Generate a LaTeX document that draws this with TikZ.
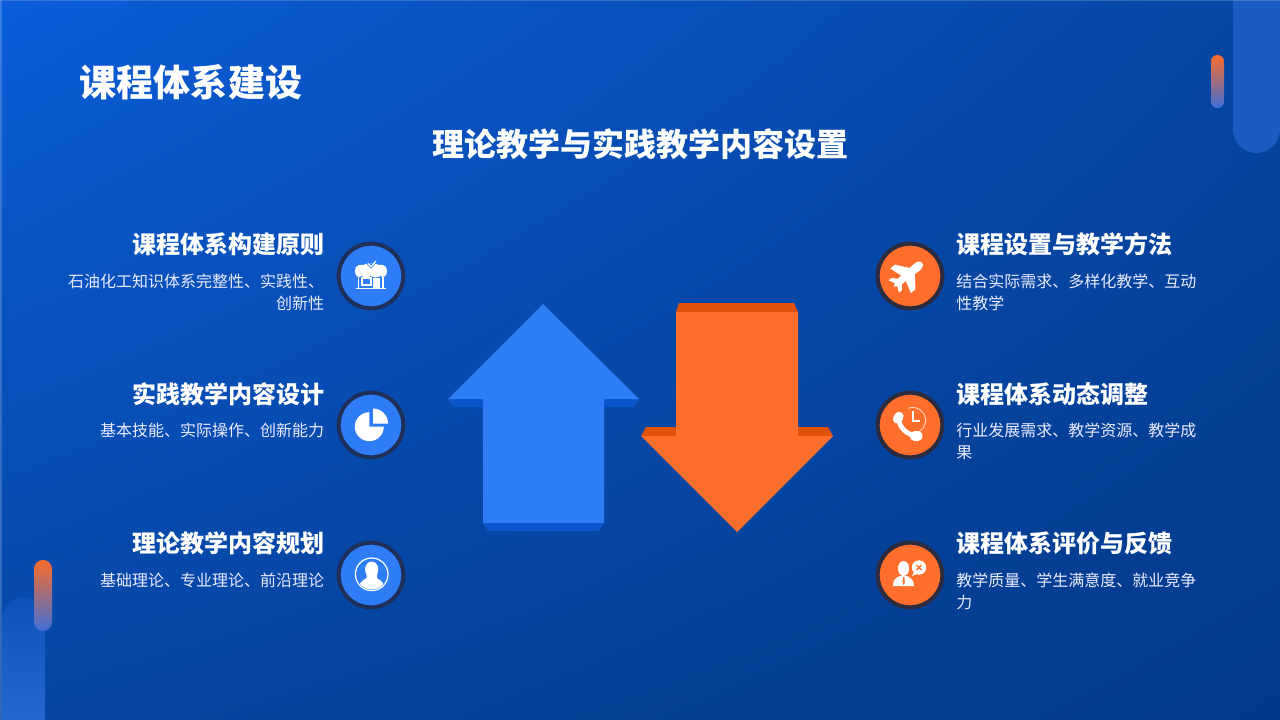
\documentclass[tikz,border=0pt]{standalone}
\usepackage{fontspec}
\usetikzlibrary{shadings}
\setmainfont{Noto Sans CJK SC}
\definecolor{bluefill}{HTML}{2F7DF6}
\definecolor{blueshade}{HTML}{0B55CC}
\definecolor{orangefill}{HTML}{FF6E2B}
\definecolor{orangeshade}{HTML}{E0520A}
\definecolor{ringblue}{HTML}{1E3059}
\definecolor{ringorange}{HTML}{2B2A3E}
\definecolor{bgtl}{HTML}{0A5DD9}
\definecolor{bgmid}{HTML}{0646A2}
\definecolor{bgbr}{HTML}{03398A}
\definecolor{panelc}{HTML}{1B5CC2}
\definecolor{pillo}{HTML}{FA6C2A}
\definecolor{pillb}{HTML}{3F6FD8}
\definecolor{paneltop}{HTML}{0D52BA}
\definecolor{panelbot}{HTML}{2468CF}
\tikzset{
  x=0.75pt,y=-0.75pt,
  titletext/.style={text=white,font=\fontsize{27.8}{32}\bfseries\selectfont,inner sep=0pt},
  subtitletext/.style={text=white,font=\fontsize{24}{28}\bfseries\selectfont,inner sep=0pt},
  headr/.style={text=white,font=\fontsize{18}{22}\bfseries\selectfont,inner sep=0pt,anchor=east},
  headl/.style={text=white,font=\fontsize{18}{22}\bfseries\selectfont,inner sep=0pt,anchor=west},
  bodyr/.style={text=white!92!blue,font=\fontsize{12}{16.5}\selectfont,inner sep=0pt,anchor=north east,align=right},
  bodyl/.style={text=white!92!blue,font=\fontsize{12}{16.5}\selectfont,inner sep=0pt,anchor=north west,align=left},
  bluedisc/.style={circle,minimum size=48.5pt,inner sep=0pt,fill=bluefill,draw=ringblue,line width=3pt},
  orangedisc/.style={circle,minimum size=48.5pt,inner sep=0pt,fill=orangefill,draw=ringorange,line width=3pt},
  wh/.style={fill=white,draw=none},
}
\begin{document}
\begin{tikzpicture}
\useasboundingbox (0,0) rectangle (1280,720);
% background
\begin{scope}
\clip (0,0) rectangle (1280,720);
\shade[lower right=bgbr,upper left=bgtl,lower left=bgmid,upper right=bgmid] (0,0) rectangle (1280,720);
\fill[panelc] (1233,-30) -- (1233,129.5) arc[start angle=180,end angle=0,radius=23.5] -- (1280,-30) -- cycle;
\shade[top color=paneltop,bottom color=panelbot] (2,720) -- (2,619) arc[start angle=180,end angle=360,radius=21.5] -- (45,720) -- cycle;
\fill[white,opacity=.18] (0,0) rectangle (1280,1.5);
\fill[white,opacity=.18] (0,0) rectangle (1.5,720);
\end{scope}
% pills
\shade[top color=pillo,bottom color=pillb,rounded corners=4.8pt] (1211,55) rectangle (1224,108);
\shade[top color=pillo,bottom color=pillb,rounded corners=6.7pt] (34,560) rectangle (52,631);
% titles
\node[titletext,anchor=west] (title) at (79.5,82) {课程体系建设};
\node[subtitletext] (subtitle) at (640,144) {理论教学与实践教学内容设置};
% left texts
\node[headr] (h1) at (324.7,244) {课程体系构建原则};
\node[bodyr] (b1) at (324.5,274) {石油化工知识体系完整性、实践性、\\创新性};
\node[headr] (h2) at (324.7,394) {实践教学内容设计};
\node[bodyr] (b2) at (324.5,423) {基本技能、实际操作、创新能力};
\node[headr] (h3) at (324.7,543) {理论教学内容规划};
\node[bodyr] (b3) at (324.5,573) {基础理论、专业理论、前沿理论};
% right texts
\node[headl] (h4) at (956,244) {课程设置与教学方法};
\node[bodyl] (b4) at (956,274) {结合实际需求、多样化教学、互动\\性教学};
\node[headl] (h5) at (956,394) {课程体系动态调整};
\node[bodyl] (b5) at (956,423) {行业发展需求、教学资源、教学成\\果};
\node[headl] (h6) at (956,543) {课程体系评价与反馈};
\node[bodyl] (b6) at (956,573) {教学质量、学生满意度、就业竞争\\力};
% arrows
\fill[blueshade] (448,399) -- (453,407) -- (483,407) -- (483,399) -- cycle;
\fill[blueshade] (604,399) -- (604,407) -- (634,407) -- (639,399) -- cycle;
\fill[blueshade] (483,523) -- (488,531) -- (599,531) -- (604,523) -- cycle;
\fill[bluefill] (543,304) -- (639,399) -- (604,399) -- (604,523) -- (483,523) -- (483,399) -- (448,399) -- cycle;
\fill[orangeshade] (676,312) -- (679,303) -- (794,303) -- (798,312) -- cycle;
\fill[orangeshade] (641,436) -- (646,427) -- (676,427) -- (676,436) -- cycle;
\fill[orangeshade] (798,427) -- (828,427) -- (833,436) -- (798,436) -- cycle;
\fill[orangefill] (676,312) -- (798,312) -- (798,436) -- (833,436) -- (737,532) -- (641,436) -- (676,436) -- cycle;
% discs
\node[bluedisc] (d1) at (371,276) {};
\node[bluedisc] (d2) at (371,425) {};
\node[bluedisc] (d3) at (371,575) {};
\node[orangedisc] (d4) at (910,276) {};
\node[orangedisc] (d5) at (910,425) {};
\node[orangedisc] (d6) at (910,575) {};
% icon 1: shop
\fill[wh] (355,271) .. controls (355,266) and (359,264) .. (363,265) .. controls (366,263) and (376,263) .. (379,265) .. controls (383,264) and (387,266) .. (387,271) .. controls (387,277) and (383,278) .. (380,276) .. controls (377,278) and (374,278) .. (371,276) .. controls (368,278) and (365,278) .. (362,276) .. controls (359,278) and (355,277) .. (355,271) -- cycle;
\draw[white,line width=0.8pt] (358.5,277) -- (358.5,288) (383,277) -- (383,288) (356,288.5) -- (386,288.5);
\draw[white,line width=1.3pt] (362,278) rectangle (371,285);
\fill[wh] (373,278) rectangle (380,288);
\draw[bluefill,line width=2pt] (368,263.5) -- (371,266.5) -- (376,261);
\draw[white,line width=0.9pt] (368,263.5) -- (371,266.5) -- (376,261);
% icon 2: pie
\fill[wh] (369.3,426.7) -- (369.3,412.2) arc[start angle=-90,end angle=-360,x radius=14.5,y radius=14.5] -- cycle;
\fill[wh] (373,423.5) -- (373,408.5) arc[start angle=-90,end angle=0,x radius=15,y radius=15] -- cycle;
% icon 3: person
\draw[white,line width=0.9pt] (371.7,574.3) circle[radius=16.3];
\begin{scope}
\clip (371.7,574.3) circle[radius=15.2];
\fill[wh] (371.7,569.5) ellipse[x radius=6.6,y radius=8];
\fill[wh] (366.5,572) -- (377,572) -- (377,578) .. controls (381,581) and (385,583) .. (387,594) -- (356,594) .. controls (358,583) and (362,581) .. (366.5,578) -- cycle;
\end{scope}
% icon 4: plane
\begin{scope}[shift={(907.5,275)},rotate=40]
\fill[wh] (19,0) .. controls (19,-3) and (16,-4.3) .. (12,-4.3) -- (-13,-3.3) -- (-18,0) -- (-13,3.3) -- (12,4.3) .. controls (16,4.3) and (19,3) .. (19,0) -- cycle;
\fill[wh] (7,-3) -- (-3,-16) -- (-9,-16) -- (-5,-3) -- cycle;
\fill[wh] (7,3) -- (-3,16) -- (-9,16) -- (-5,3) -- cycle;
\fill[wh] (-9,-2) -- (-14,-8) -- (-18,-8) -- (-15,-2) -- cycle;
\fill[wh] (-9,2) -- (-14,8) -- (-18,8) -- (-15,2) -- cycle;
\end{scope}
% icon 5: phone and clock
\draw[white!75!orangefill,line width=0.6pt] (902,413) arc[start angle=215,end angle=-110,radius=13];
\draw[white,line width=0.8pt] (913,411) -- (913,421) -- (920,421);
\draw[white,line width=3.6pt] (899,418) .. controls (898,427) and (908,436) .. (918,436);
\draw[white,line width=7pt,line cap=round] (897.5,419) -- (899,416.5);
\draw[white,line width=7pt,line cap=round] (914.5,436) -- (918,436);
% icon 6: person and bubble
\fill[wh] (903.5,568.5) ellipse[x radius=5.6,y radius=7.5];
\fill[wh] (893,586) .. controls (893,580) and (895,578) .. (900,576) -- (907,576) .. controls (911,578) and (914,580) .. (914,586) -- cycle;
\fill[orangefill] (903,577) -- (904.4,577) -- (904.8,583) -- (903.7,585) -- (902.6,583) -- cycle;
\fill[wh] (919,567.5) circle[radius=7.2];
\fill[wh] (914,572) -- (912,576) -- (917,574) -- cycle;
\draw[orangefill,line width=1pt] (916.5,565) -- (921.5,570) (921.5,565) -- (916.5,570);
\end{tikzpicture}
\end{document}
